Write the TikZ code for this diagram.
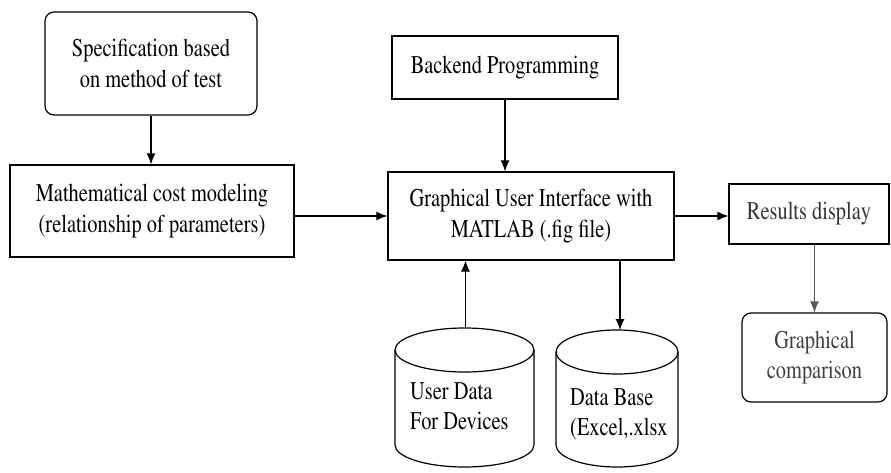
\documentclass[tikz,border=0pt]{standalone}
\usepackage[T1]{fontenc}
\usepackage{times}
\usepackage{graphicx}
\newcommand\sq[1]{\scalebox{0.8}[1]{#1}}
\usetikzlibrary{arrows.meta}
\begin{document}
\begin{tikzpicture}[x=1pt,y=-1pt,
  every node/.style={font=\rmfamily\fontsize{25.5}{30.5}\selectfont, align=center, inner sep=0pt},
  box/.style={draw, line width=1.2pt, minimum width=#1},
  rbox/.style={draw, line width=1.2pt, rounded corners=9pt},
  conn/.style={line width=1.1pt, -{Latex[length=11pt,width=9pt]}},
  cyl/.style={line width=1.2pt}
]
\useasboundingbox (0,0) rectangle (891,473);

% boxes
\node[rbox, minimum width=212pt, minimum height=103pt] (spec) at (151,63.5) {\sq{Specification based}\\\sq{on method of test}};
\node[box=284pt, minimum height=92pt] (math) at (152,211) {\sq{Mathematical cost modeling}\\\sq{(relationship of parameters)}};
\node[box=226pt, minimum height=63pt] (back) at (505,67.5) {\sq{Backend Programming}};
\node[box=286pt, minimum height=88pt] (gui) at (531,216) {\sq{Graphical User Interface with}\\\sq{MATLAB (.fig file)}};
\node[box=160pt, minimum height=60pt, text=black!80] (res) at (809,214) {\sq{Results display}};
\node[rbox, minimum width=145pt, minimum height=89pt, text=black!75] (gcomp) at (814.5,357.5) {\sq{Graphical}\\\sq{comparison}};

% cylinders
\draw[cyl] (464.5,350) ellipse [x radius=69.5, y radius=22];
\draw[cyl] (395,350) -- (395,445) arc[start angle=180, end angle=0, x radius=69.5, y radius=22] -- (534,350);
\coordinate (udtop) at (465.5,328);
\node[anchor=west, align=left] (ud) at (410,406.5) {\sq{User Data}\\\sq{For Devices}};

\draw[cyl] (617,352) ellipse [x radius=61, y radius=22];
\draw[cyl] (556,352) -- (556,445) arc[start angle=180, end angle=0, x radius=61, y radius=22] -- (678,352);
\coordinate (dbtop) at (620,330);
\node[anchor=west, align=left] (db) at (570,414.5) {\sq{Data Base}\\\sq{(Excel,.xlsx}};

% connectors
\draw[conn] (spec.south) -- (spec.south |- math.north);
\draw[conn] (back.south) -- (back.south |- gui.north);
\draw[conn] (gui.west -| math.east) -- (gui.west);
\draw[conn] (gui.east) -- (gui.east -| res.west);
\draw[conn, black!65] (gcomp.north |- res.south) -- (gcomp.north);
\draw[conn] (udtop) -- (udtop |- gui.south);
\draw[conn] (gui.south -| dbtop) -- (dbtop);
\end{tikzpicture}
\end{document}
